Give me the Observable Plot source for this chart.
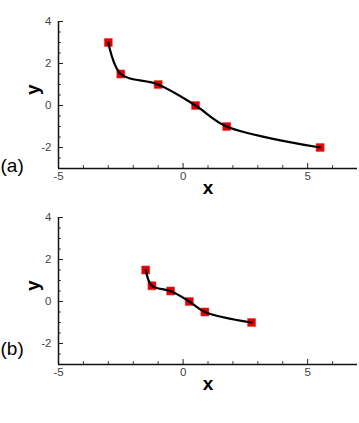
<!DOCTYPE html>
<html>
<head>
<meta charset="utf-8">
<script src="https://cdn.jsdelivr.net/npm/d3@7"></script>
<script src="https://cdn.jsdelivr.net/npm/@observablehq/plot@0.6"></script>
<style>
  body { margin: 0; background: #fff; }
  #chart { width: 359px; height: 423px; }
  #chart svg { display: block; font-family: "Liberation Sans", Arial, sans-serif; }
</style>
</head>
<body>
<div id="chart"></div>
<script>
// Panel (a)
const xA = [-3, -2.5, -1, 0.5, 1.75, 5.5];
const yA = [3, 1.5, 1, 0, -1, -2];
// Panel (b)
const xB = [-1.5, -1.25, -0.5, 0.25, 0.875, 2.75];
const yB = [1.5, 0.75, 0.5, 0, -0.5, -1];

const xMajor = [-5, 0, 5];
const xMinor = [-4, -3, -2, -1, 1, 2, 3, 4, 6];
const yMajor = [-2, 0, 2, 4];
const yMinor = [-2.5, -1.5, -1, -0.5, 0.5, 1, 1.5, 2.5, 3, 3.5];
const panelLabels = ["(a)", "(b)"];

function panel(xs, ys, label, opts) {
  const data = xs.map((x, i) => ({x, y: ys[i]}));
  const fmt = d => String(d);
  return Plot.plot({
    width: 359,
    height: opts.height,
    marginLeft: 58,
    marginRight: 2,
    marginTop: opts.marginTop,
    marginBottom: opts.marginBottom,
    style: {fontFamily: "Liberation Sans, Arial, sans-serif", overflow: "visible"},
    x: {domain: [-5, 7]},
    y: {domain: [-3, 4]},
    marks: [
      // tick labels
      Plot.axisX({ticks: xMajor, tickFormat: fmt, tickSize: 0, tickPadding: 3, fontSize: 11.5, fill: "#444", label: null}),
      Plot.axisY({ticks: yMajor, tickFormat: fmt, tickSize: 0, tickPadding: 7, fontSize: 11.5, fill: "#444", label: null}),
      // inward ticks (no labels)
      Plot.axisX({ticks: xMajor, tickSize: -5, fill: "none", label: null, stroke: "#222"}),
      Plot.axisX({ticks: xMinor, tickSize: -3, fill: "none", label: null, stroke: "#444"}),
      Plot.axisY({ticks: yMajor, tickSize: -5, fill: "none", label: null, stroke: "#222"}),
      Plot.axisY({ticks: yMinor, tickSize: -3, fill: "none", label: null, stroke: "#444"}),
      // axis lines
      Plot.ruleY([-3], {stroke: "#111", strokeWidth: 1.5}),
      Plot.ruleX([-5], {stroke: "#111", strokeWidth: 1.5}),
      // axis titles
      Plot.text(["x"], {frameAnchor: "bottom", dy: 19.5, fontSize: 19, fontWeight: "bold", fill: "#000", lineAnchor: "middle"}),
      Plot.text(["y"], {frameAnchor: "left", dx: -26, rotate: -90, fontSize: 19, fontWeight: "bold", fill: "#000", lineAnchor: "middle"}),
      Plot.text([label], {frameAnchor: "bottom-left", dx: -58, dy: opts.labelDy, fontSize: 19, textAnchor: "start", lineAnchor: "middle", fill: "#000"}),
      // data
      Plot.dot(data, {x: "x", y: "y", symbol: "square", r: 4.6, fill: "#e00000", stroke: "#e85050", strokeWidth: 0.5}),
      Plot.line(data, {x: "x", y: "y", curve: "catmull-rom", stroke: "#000", strokeWidth: 2.2})
    ]
  });
}

const chart = document.getElementById("chart");
chart.append(panel(xA, yA, panelLabels[0], {height: 200, marginTop: 21, marginBottom: 32, labelDy: -2.5}));
chart.append(panel(xB, yB, panelLabels[1], {height: 223, marginTop: 17, marginBottom: 59, labelDy: -15.5}));
</script>
</body>
</html>
